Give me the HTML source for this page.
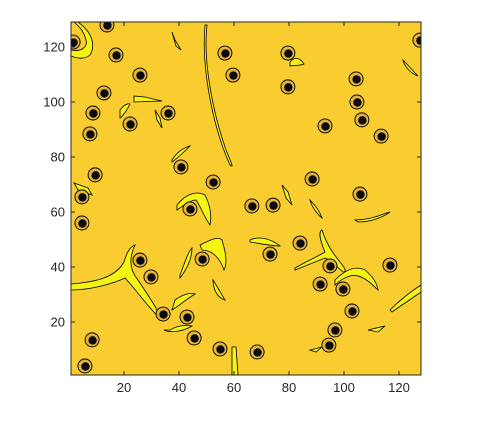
<!DOCTYPE html>
<html><head><meta charset="utf-8"><style>
body{margin:0;background:#fff;}
svg{display:block;font-family:"Liberation Sans",sans-serif;}
</style></head><body>
<svg id="chart" width="487" height="443">
<defs><clipPath id="clip"><rect x="71" y="22" width="350" height="353"/></clipPath></defs>
<rect x="71" y="22" width="350" height="353" fill="#F9CC30"/>
<g id="yellow" clip-path="url(#clip)" stroke="#000" stroke-width="0.8" fill="#F5F514">
<path d="M207,25 C203,60 212,110 226,150 C232,165 234,168 230,165 C214,130 201,70 205,25 Z"/>
<path d="M71,284 C95,282 115,278 124,262 C127,252 130,247 135,245 C130,256 128,268 138,280 C148,295 158,310 162,320 C150,310 138,292 125,278 C112,284 90,290 71,290 Z"/>
<path d="M78,22 C92,32 96,45 90,55 C84,60 76,58 71,56 L71,50 C80,52 88,48 86,40 C84,32 80,27 74,22 Z"/>
<path d="M134,96 L145,97 L153,99 L162,101 L134,102 Z"/>
<path d="M172,32 L175,40 L181,50 L176,46 Z"/>
<path d="M177,205 C185,195 195,190 205,195 C210,205 212,215 210,225 C203,215 200,205 196,200 C190,200 183,206 177,210 Z"/>
<path d="M170,330 C178,325 186,325 192,326 C182,332 170,333 164,330 Z"/>
<path d="M175,300 C182,295 190,292 195,294 C185,300 180,305 172,310 Z"/>
<path d="M180,275 C185,262 188,252 192,248 C192,260 186,270 180,278 Z"/>
<path d="M200,245 C210,240 218,236 222,240 C225,250 228,262 224,270 C220,258 212,250 202,250 Z"/>
<path d="M213,280 C218,288 222,295 225,300 C218,298 213,290 213,280 Z"/>
<path d="M250,240 C258,236 270,238 280,246 C270,246 258,243 250,242 Z"/>
<path d="M232,347 L236,347 L238,375 L232,375 Z"/>
<path d="M295,268 C305,262 315,258 325,252 C320,240 318,232 322,230 C325,240 330,250 340,262 C345,268 347,272 343,272 C335,265 330,260 325,258 C315,262 305,266 295,270 Z"/>
<path d="M335,280 C345,270 355,265 365,270 C372,276 377,283 378,290 C370,282 360,273 350,276 C343,278 338,282 335,285 Z"/>
<path d="M390,310 C400,300 410,292 421,285 L421,292 C410,300 400,306 392,312 Z"/>
<path d="M355,220 C370,220 380,215 390,212 C382,218 370,222 358,222 Z"/>
<path d="M290,62 C295,56 300,58 304,64 C300,66 295,65 290,66 Z"/>
<path d="M403,60 C408,65 414,72 418,76 C412,74 405,68 403,60 Z"/>
<path d="M310,200 C315,205 320,212 322,218 C317,214 312,207 310,200 Z"/>
<path d="M120,110 C124,105 127,103 130,104 C127,110 124,115 120,118 Z"/>
<path d="M172,160 C177,152 183,148 190,146 C184,152 178,158 172,162 Z"/>
<path d="M74,183 L88,188 L92,195 L78,190 Z"/>
<path d="M155,110 L160,118 L162,128 L157,120 Z"/>
<path d="M282,185 L288,192 L292,205 L286,198 Z"/>
<path d="M368,330 L385,326 L378,332 Z"/>
<path d="M310,350 L322,347 L316,352 Z"/>
</g>
<g id="blobs" clip-path="url(#clip)"></g>
<rect x="71" y="22" width="350" height="353" fill="none" stroke="#262626" stroke-width="1"/>
<g id="axes" fill="#262626" font-size="13"></g>
</svg>
<script>
const blobX=[1.5,13.8,17.1,25.8,12.7,8.7,7.6,22.2,36,9.5,4.7,4.7,40.7,52.4,44,56.7,59.6,79.6,79.6,104.4,104.7,106.5,93.1,113.5,88.4,105.8,66.5,74.2,84,73.1,25.8,29.8,48.4,94.9,91.3,99.6,116.7,34.2,42.9,8.4,45.5,54.9,68.4,5.8,94.5,96.7,102.9,127.6];
const blobY=[121.8,128,117.1,109.8,103.3,96,88.4,92,96,73.5,65.5,56,76.4,70.9,61.1,117.8,109.8,117.8,105.5,108.4,100,93.5,91.3,87.6,72,66.5,62.2,62.5,48.7,44.7,42.5,36.4,42.9,40.4,33.8,32,40.7,22.9,21.8,13.5,14.2,10.2,9.1,4,11.6,17.1,24,122.5];
const xTicks=[20,40,60,80,100,120];
const yTicks=[20,40,60,80,100,120];
const NS='http://www.w3.org/2000/svg';
const sx=v=>69+v*2.75, sy=v=>377-v*2.75;
const bg=document.getElementById('blobs');
for(let i=0;i<blobX.length;i++){
  const o=document.createElementNS(NS,'circle');
  o.setAttribute('cx',sx(blobX[i]));o.setAttribute('cy',sy(blobY[i]));o.setAttribute('r',7);
  o.setAttribute('fill','#E3B436');o.setAttribute('stroke','#000');o.setAttribute('stroke-width','0.9');
  
  
  bg.appendChild(o);
  const c=document.createElementNS(NS,'circle');
  c.setAttribute('cx',sx(blobX[i])+0.5);c.setAttribute('cy',sy(blobY[i])+0.5);c.setAttribute('r',4.2);
  c.setAttribute('fill','#0a0a14');
  
  
  bg.appendChild(c);
}
const ax=document.getElementById('axes');
function line(x1,y1,x2,y2){const l=document.createElementNS(NS,'line');l.setAttribute('x1',x1);l.setAttribute('y1',y1);l.setAttribute('x2',x2);l.setAttribute('y2',y2);l.setAttribute('stroke','#262626');


ax.appendChild(l);}
xTicks.forEach(v=>{const x=sx(v);line(x,375,x,371);line(x,22,x,26);
 const t=document.createElementNS(NS,'text');t.setAttribute('x',x);t.setAttribute('y',392);t.setAttribute('text-anchor','middle');t.textContent=v;
 
 
 ax.appendChild(t);});
yTicks.forEach(v=>{const y=sy(v);line(71,y,75,y);line(421,y,417,y);
 const t=document.createElementNS(NS,'text');t.setAttribute('x',65);t.setAttribute('y',y+4.5);t.setAttribute('text-anchor','end');t.textContent=v;
 
 
 ax.appendChild(t);});
</script>
</body></html>
